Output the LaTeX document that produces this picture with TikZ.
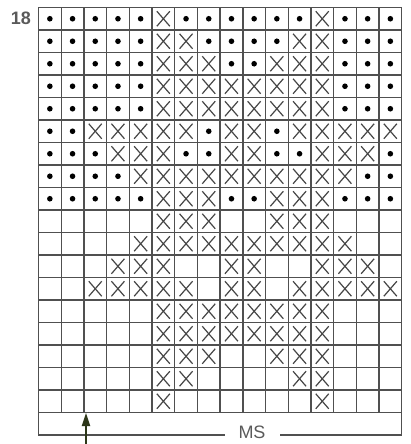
\documentclass[tikz,border=0pt]{standalone}
\usepackage{fontspec}
\setmainfont{Liberation Sans}
\usetikzlibrary{arrows.meta}
\definecolor{gridc}{RGB}{80,80,80}
\definecolor{crossc}{RGB}{70,70,70}
\definecolor{labelc}{RGB}{90,90,90}
\definecolor{arrowc}{RGB}{45,55,25}
\tikzset{
  gridline/.style={draw=gridc, line width=1.4pt},
  crossline/.style={draw=crossc, line width=1.2pt},
  dotmark/.style={fill=black},
  rowlabel/.style={text=labelc, font=\fontsize{18}{18}\selectfont\bfseries, inner sep=0pt},
  mslabel/.style={text=labelc, font=\fontsize{18}{18}\selectfont, inner sep=0pt},
  pointer/.style={draw=arrowc, fill=arrowc, line width=1.8pt, -{Triangle[width=8pt,length=13pt]}}
}
\begin{document}
\begin{tikzpicture}[x=1pt,y=-1pt]
\useasboundingbox (0,0) rectangle (411,444);
\fill[white] (0,0) rectangle (411,444);
\def\xo{38.5}\def\yo{7.5}\def\cw{22.7}\def\rh{22.5}
% grid lines
\foreach \i in {0,...,16} {
  \draw[gridline] ({\xo+\i*\cw},\yo) -- ({\xo+\i*\cw},{\yo+18*\rh});
}
\foreach \j in {0,...,18} {
  \draw[gridline] (\xo,{\yo+\j*\rh}) -- ({\xo+16*\cw},{\yo+\j*\rh});
}
% symbols
\foreach \r/\row in {
 1/{d,d,d,d,d,x,d,d,d,d,d,d,x,d,d,d},
 2/{d,d,d,d,d,x,x,d,d,d,d,x,x,d,d,d},
 3/{d,d,d,d,d,x,x,x,d,d,x,x,x,d,d,d},
 4/{d,d,d,d,d,x,x,x,x,x,x,x,x,d,d,d},
 5/{d,d,d,d,d,x,x,x,x,x,x,x,x,d,d,d},
 6/{d,d,x,x,x,x,x,d,x,x,d,x,x,x,x,x},
 7/{d,d,d,x,x,x,d,d,x,x,d,d,x,x,x,d},
 8/{d,d,d,d,x,x,x,x,x,x,x,x,x,x,d,d},
 9/{d,d,d,d,d,x,x,x,d,d,x,x,x,d,d,d},
 10/{o,o,o,o,o,x,x,x,o,o,x,x,x,o,o,o},
 11/{o,o,o,o,x,x,x,x,x,x,x,x,x,x,o,o},
 12/{o,o,o,x,x,x,o,o,x,x,o,o,x,x,x,o},
 13/{o,o,x,x,x,x,x,o,x,x,o,x,x,x,x,x},
 14/{o,o,o,o,o,x,x,x,x,x,x,x,x,o,o,o},
 15/{o,o,o,o,o,x,x,x,x,x,x,x,x,o,o,o},
 16/{o,o,o,o,o,x,x,x,o,o,x,x,x,o,o,o},
 17/{o,o,o,o,o,x,x,o,o,o,o,x,x,o,o,o},
 18/{o,o,o,o,o,x,o,o,o,o,o,o,x,o,o,o}} {
  \foreach \c [count=\i] in \row {
    \pgfmathsetmacro{\cx}{\xo+(\i-0.5)*\cw}
    \pgfmathsetmacro{\cy}{\yo+(\r-0.5)*\rh}
    \if x\c
      \draw[crossline] ({\cx-6.5},{\cy-7.5}) -- ({\cx+6.5},{\cy+7.5});
      \draw[crossline] ({\cx+6.5},{\cy-7.5}) -- ({\cx-6.5},{\cy+7.5});
    \fi
    \if d\c
      \fill[dotmark] (\cx,\cy) circle (2.8);
    \fi
  }
}
% bottom frame
\coordinate (fl) at (\xo,{\yo+18*\rh});
\coordinate (fr) at ({\xo+16*\cw},{\yo+18*\rh});
\coordinate (bl) at (\xo,435);
\coordinate (br) at ({\xo+16*\cw},435);
\coordinate (gapl) at (225,435);
\coordinate (gapr) at (280,435);
\draw[gridline] (fl) -- (bl) -- (gapl);
\draw[gridline] (gapr) -- (br) -- (fr);
\node[mslabel] (ms) at (252,432) {MS};
\node[rowlabel] (lab18) at (21,18) {18};
% arrow
\coordinate (arrowfoot) at (86,446);
\coordinate (arrowtip) at (86,413);
\draw[pointer] (arrowfoot) -- (arrowtip);
\end{tikzpicture}
\end{document}
